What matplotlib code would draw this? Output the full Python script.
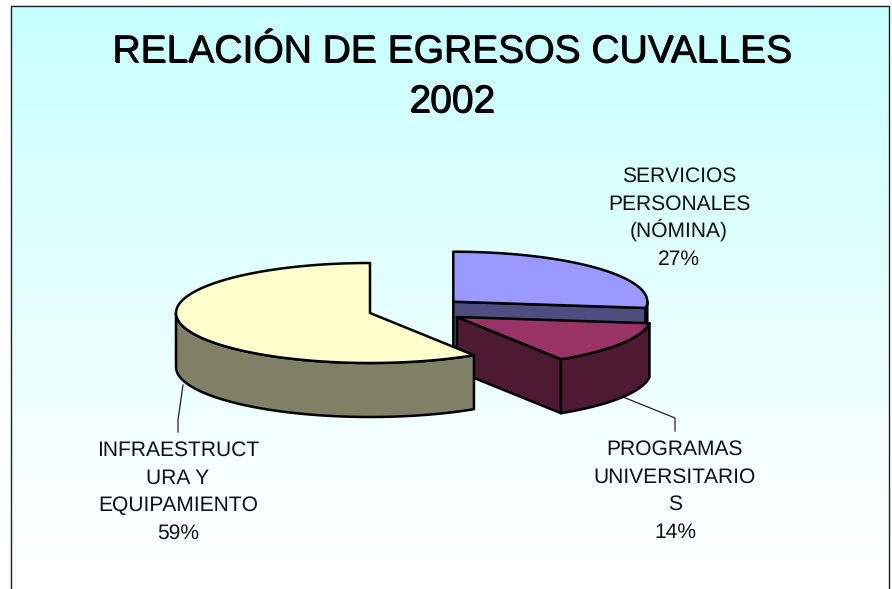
import numpy as np
import matplotlib
matplotlib.use("Agg")
import matplotlib.pyplot as plt
from matplotlib.patches import Polygon

title_lines = ["RELACIÓN DE EGRESOS CUVALLES", "2002"]
categories = [["SERVICIOS", "PERSONALES", "(NÓMINA)"],
              ["PROGRAMAS", "UNIVERSITARIO", "S"],
              ["INFRAESTRUCT", "URA Y", "EQUIPAMIENTO"]]
values = [27, 14, 59]
percent_labels = ["27%", "14%", "59%"]
top_colors = ["#9999FF", "#993366", "#FFFFCC"]
side_colors = ["#4D4D80", "#4D1933", "#808066"]

# layout in figure pixels
W, H = 892, 589
centers = [(453.3, 301.7), (457.0, 317.0), (370.0, 313.0)]
RX, RY, DEPTH = 194.0, 50.0, 54.0
label_pos = [(679, 182), (675, 455), (178, 456)]
LINE_STEP = 27.5
leaders = [None, [(623, 397), (675, 418), (675, 431)], [(183, 385), (178, 420), (178, 432)]]

plt.rcParams["font.family"] = ["Liberation Sans", "DejaVu Sans"]
plt.rcParams["text.hinting"] = "no_hinting"
plt.rcParams["text.hinting_factor"] = 1
fig = plt.figure(figsize=(W / 100, H / 100), dpi=100, facecolor="white")
ax = fig.add_axes([0, 0, 1, 1])
ax.axis("off")

# background gradient
grad = np.ones((H, 1, 3))
t = np.clip((np.arange(H) - 5) / 550.0, 0, 1)
grad[:, 0, 0] = (0xC8 + (255 - 0xC8) * t) / 255
ax.imshow(grad, extent=(10.5, 889, 589, 5.5), aspect="auto", zorder=0,
          interpolation="bilinear")
ax.set_xlim(0, W)
ax.set_ylim(H, 0)
ax.plot([10.5, 10.5, 889, 889], [589, 5.5, 5.5, 589], color="#222222", lw=1.0, zorder=1,
        solid_joinstyle="miter")


def pt(c, a, dz=0.0):
    """a: clockwise degrees from 12 o'clock"""
    r = np.radians(a)
    return np.column_stack([c[0] + RX * np.sin(r), c[1] - RY * np.cos(r) + dz])


fracs = np.array(values, dtype=float) / sum(values) * 360
starts = np.concatenate([[0], np.cumsum(fracs)[:-1]])
z = 3
LW = 1.8
for c, s, f, top, side in zip(centers, starts, fracs, top_colors, side_colors):
    e = s + f
    # radial wall facing the viewer (end edge of the slice, on the right half)
    if e < 180:
        p = pt(c, np.array([e]))[0]
        quad = [c, p, (p[0], p[1] + DEPTH), (c[0], c[1] + DEPTH)]
        ax.add_patch(Polygon(quad, closed=True, fc=side, ec="black", lw=LW, zorder=z,
                             joinstyle="round"))
    # visible outer wall (lower half of the rim)
    a0, a1 = max(s, 90), min(e, 270)
    if a1 > a0:
        arc = np.linspace(a0, a1, 120)
        upper = pt(c, arc)
        lower = pt(c, arc, DEPTH)[::-1]
        ax.add_patch(Polygon(np.vstack([upper, lower]), closed=True, fc=side, ec="black",
                             lw=LW, zorder=z + 0.2, joinstyle="round"))
    # top face
    arc = np.linspace(s, e, 200)
    ax.add_patch(Polygon(np.vstack([[c], pt(c, arc)]), closed=True, fc=top, ec="black",
                         lw=LW, zorder=z + 0.5, joinstyle="round"))
    z += 1

for pts in leaders:
    if pts:
        xs, ys = zip(*pts)
        ax.plot(xs, ys, color="#222222", lw=0.9, zorder=2)

for (x, y), name, pct in zip(label_pos, categories, percent_labels):
    for i, line in enumerate(name + [pct]):
        ax.text(x, y + i * LINE_STEP, line, ha="center", va="baseline", fontsize=15.3,
                color="#111111", zorder=9)

for txt, y in zip(title_lines, [63, 112]):
    ax.text(451.5 + 0.9, y + 0.5, txt, ha="center", va="baseline", fontsize=28.4, color="black", zorder=9)
    ax.text(451.5, y, txt, ha="center", va="baseline", fontsize=28.4, color="black", zorder=10)

fig.savefig("out.png", dpi=100)
